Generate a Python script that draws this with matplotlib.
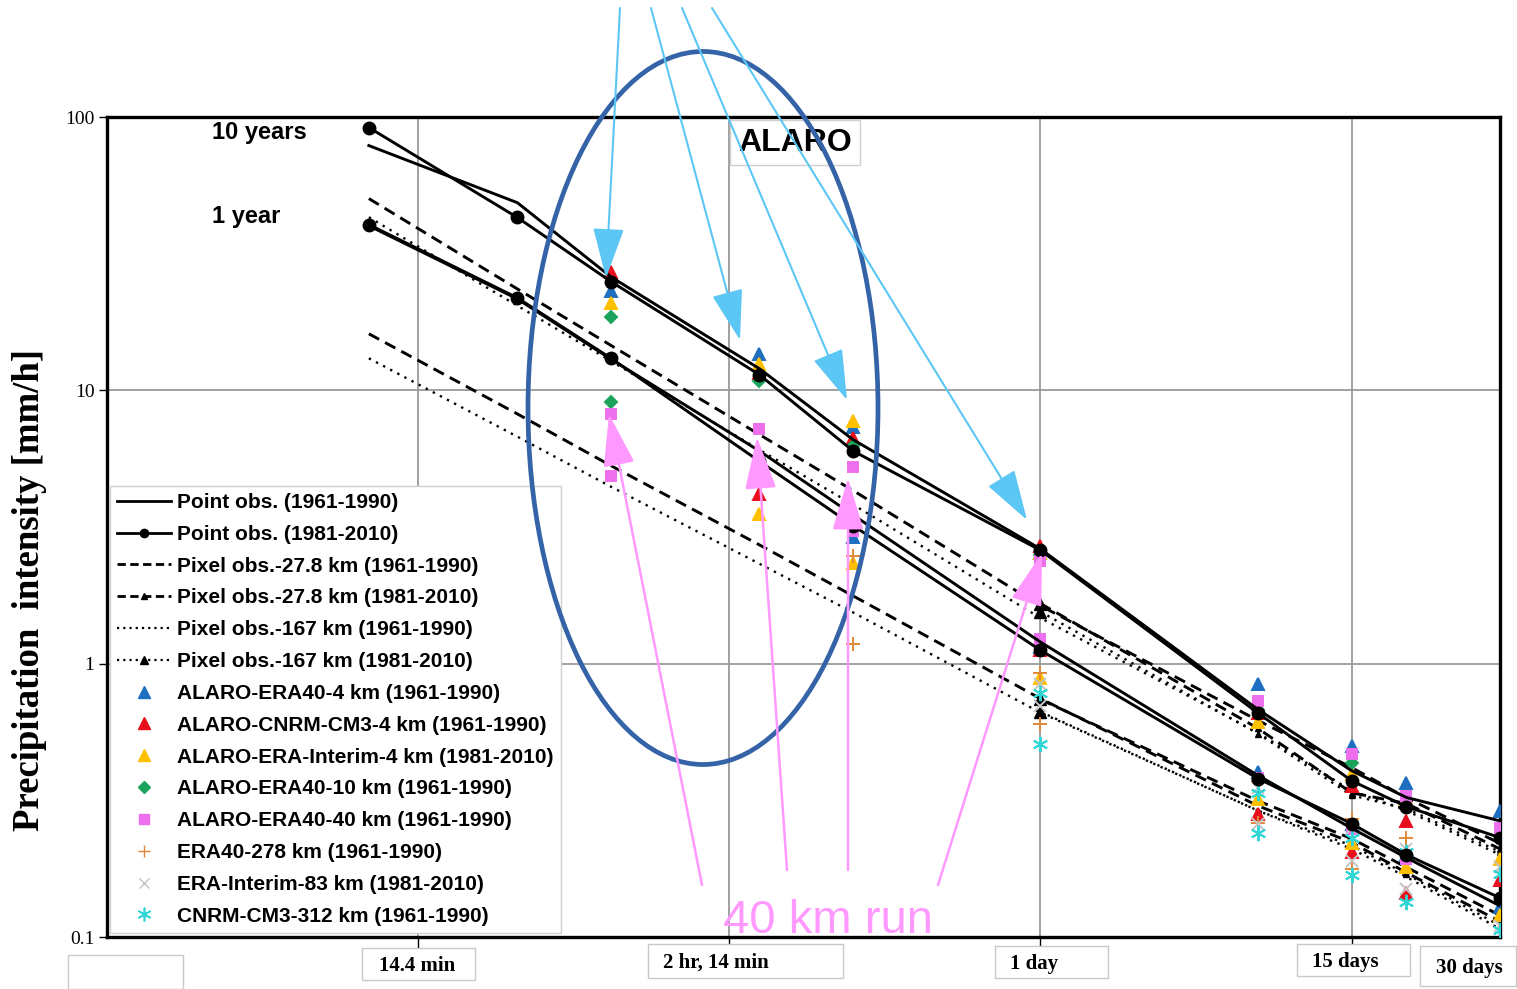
import numpy as np
import matplotlib
matplotlib.use('Agg')
import matplotlib.pyplot as plt
from matplotlib.lines import Line2D
from matplotlib.patches import Ellipse, FancyArrowPatch, Rectangle

nan = np.nan

# durations in days: 10 min, 30 min, 1 h, 3 h, 6 h, 1 d, 5 d, 10 d, 15 d, 30 d
durations = [10/1440, 30/1440, 1/24, 3/24, 6/24, 1, 5, 10, 15, 30]
daily = [1, 5, 10, 15, 30]

# ── observations (10-year and 1-year return levels, mm/h) ────────────────────
point_6190_10y = [78.6, 48.6, 26.0, 12.0, 6.6, 2.63, 0.68, 0.406, 0.324, 0.266]
point_6190_1y  = [40.0, 21.6, 13.0, 6.0, 3.5, 1.20, 0.39, 0.25, 0.195, 0.13]
point_8110_10y = [91.5, 42.9, 25.0, 11.4, 6.0, 2.60, 0.66, 0.373, 0.30, 0.231]
point_8110_1y  = [40.4, 21.8, 13.1, 5.5, 3.2, 1.12, 0.38, 0.26, 0.20, 0.139]

pix28_6190_10y = [50.3, 23.5, 14.6, 6.89, 4.30, 1.63, 0.62, 0.417, 0.323, 0.22]
pix28_6190_1y  = [16.1, 8.2, 5.3, 2.72, 1.77, 0.745, 0.302, 0.222, 0.172, 0.114]
pix28_8110_10y = [1.66, 0.58, 0.337, 0.308, 0.21]
pix28_8110_1y  = [0.74, 0.315, 0.229, 0.18, 0.12]

pix167_6190_10y = [43.0, 20.4, 12.8, 6.06, 3.82, 1.47, 0.559, 0.343, 0.29, 0.20]
pix167_6190_1y  = [13.1, 6.77, 4.44, 2.32, 1.54, 0.662, 0.29, 0.21, 0.166, 0.107]
pix167_8110_10y = [1.55, 0.555, 0.33, 0.295, 0.205]
pix167_8110_1y  = [0.667, 0.29, 0.216, 0.17, 0.11]

# ── models ────────────────────────────────────────────────────────────────────
era40_4_10y  = [nan, nan, 23.0, 13.6, 7.35, 2.55, 0.845, 0.50, 0.367, 0.29]
era40_4_1y   = [nan, nan, nan, 4.67, 2.9, 1.15, 0.403, 0.26, 0.20, 0.129]
cnrm_4_10y   = [nan, nan, 27.0, 11.6, 6.7, 2.70, 0.66, 0.358, 0.265, 0.162]
cnrm_4_1y    = [nan, nan, nan, 4.18, 3.48, 1.12, 0.283, 0.204, 0.145, nan]
erai_4_10y   = [nan, nan, 20.8, 12.5, 7.75, 2.55, 0.61, 0.396, 0.32, 0.193]
erai_4_1y    = [nan, nan, nan, 3.54, 2.34, 0.89, 0.32, 0.221, 0.18, 0.12]
era40_10_10y = [nan, nan, 18.6, 10.85, 6.27, 2.5, 0.679, 0.434, nan, nan]
era40_10_1y  = [nan, nan, 9.1, nan, nan, nan, nan, nan, nan, nan]
era40_40_10y = [nan, nan, 8.2, 7.2, 5.25, 2.38, 0.732, 0.469, 0.327, 0.25]
era40_40_1y  = [nan, nan, 4.86, nan, 3.07, 1.23, 0.383, 0.249, 0.193, nan]
era40_278_10y = [nan, nan, nan, nan, 2.48, 0.927, 0.373, 0.271, 0.23, nan]
era40_278_1y  = [nan, nan, nan, nan, 1.18, 0.60, 0.262, 0.178, nan, nan]
erai_83_10y  = [nan, nan, nan, nan, nan, 0.845, 0.35, 0.25, 0.21, 0.18]
erai_83_1y   = [nan, nan, nan, nan, nan, 0.70, 0.26, 0.19, 0.15, 0.11]
cnrm_312_10y = [nan, nan, nan, nan, nan, 0.784, 0.337, 0.231, 0.204, 0.17]
cnrm_312_1y  = [nan, nan, nan, nan, nan, 0.51, 0.241, 0.168, 0.134, 0.106]

BLUE, RED, YEL, GRN = '#1F6FC0', '#E8101C', '#FFC000', '#1BA35B'
PINK, ORG, GRY, CYN = '#EE6FEE', '#E0883A', '#C4C4C4', '#30D5D5'

fig = plt.figure(figsize=(15.17, 9.89), dpi=100)
ax = fig.add_axes([107/1517, 52/989, 1393/1517, 820/989])
ax.set_xscale('log')
ax.set_yscale('log')
ax.set_xlim(0.001, 30)
ax.set_ylim(0.1, 100)

LW = 2.1
DASH = (0, (4, 2.3))
DOT = (0, (1, 2.4))

for v in (point_6190_10y, point_6190_1y):
    ax.plot(durations, v, color='k', lw=LW, zorder=4)
for v in (point_8110_10y, point_8110_1y):
    ax.plot(durations, v, color='k', lw=LW, marker='o', ms=9, zorder=4)
for v in (pix28_6190_10y, pix28_6190_1y):
    ax.plot(durations, v, color='k', lw=LW, ls=DASH, zorder=2)
for v in (pix167_6190_10y, pix167_6190_1y):
    ax.plot(durations, v, color='k', lw=1.7, ls=DOT, zorder=2)
for v in (pix28_8110_10y, pix28_8110_1y):
    ax.plot(daily, v, color='k', lw=LW, ls=DASH, zorder=2)
    ax.plot(daily, v, color='none', marker='^', ms=4.5, mfc='k', mec='k',
            markevery=0.005, zorder=2)
    ax.plot(daily[0], v[0], color='k', marker='^', ms=9, ls='none', zorder=2)
for v in (pix167_8110_10y, pix167_8110_1y):
    ax.plot(daily, v, color='k', lw=1.7, ls=DOT, zorder=2)
    ax.plot(daily, v, color='none', marker='^', ms=4, mfc='k', mec='k',
            markevery=0.006, zorder=2)
    ax.plot(daily[0], v[0], color='k', marker='^', ms=9, ls='none', zorder=2)

models = [
    (era40_4_10y, era40_4_1y, '^', BLUE, 9),
    (cnrm_4_10y, cnrm_4_1y, '^', RED, 9),
    (erai_4_10y, erai_4_1y, '^', YEL, 9),
    (era40_10_10y, era40_10_1y, 'D', GRN, 6.5),
    (era40_40_10y, era40_40_1y, 's', PINK, 7.5),
    (era40_278_10y, era40_278_1y, '+', ORG, 10),
    (erai_83_10y, erai_83_1y, 'x', GRY, 8),
    (cnrm_312_10y, cnrm_312_1y, (6, 2, 0), CYN, 11),
]
for v10, v1, mk, c, ms in models:
    for v in (v10, v1):
        ax.plot(durations, v, ls='none', marker=mk, ms=ms, color=c,
                mec=c, mew=1.4, zorder=3)

# ── axes styling ──────────────────────────────────────────────────────────────
ax.set_xticks([0.01, 0.1, 1, 10])
ax.set_xticks([], minor=True)
ax.set_yticks([0.1, 1, 10, 100])
ax.set_yticks([], minor=True)
ax.set_yticklabels(['0.1', '1', '10', '100'], family='Liberation Serif', fontsize=14)
ax.tick_params(axis='x', length=9, width=1, labelbottom=False)
ax.tick_params(axis='y', length=6, width=1, pad=3)
ax.grid(True, which='major', color='#9a9a9a', lw=1.3)
ax.set_axisbelow(True)
for s in ax.spines.values():
    s.set_linewidth(2.4)

# ── legend ────────────────────────────────────────────────────────────────────
handles = [
    Line2D([], [], color='k', lw=2),
    Line2D([], [], color='k', lw=2, marker='o', ms=6),
    Line2D([], [], color='k', lw=2, ls=(0, (3, 1.6))),
    Line2D([], [], color='k', lw=2, ls=(0, (3, 1.6)), marker='^', ms=5),
    Line2D([], [], color='k', lw=1.6, ls=(0, (1, 1.8))),
    Line2D([], [], color='k', lw=1.6, ls=(0, (1, 1.8)), marker='^', ms=6),
    Line2D([], [], ls='none', marker='^', color=BLUE, ms=8),
    Line2D([], [], ls='none', marker='^', color=RED, ms=8),
    Line2D([], [], ls='none', marker='^', color=YEL, ms=8),
    Line2D([], [], ls='none', marker='D', color=GRN, ms=6),
    Line2D([], [], ls='none', marker='s', color=PINK, ms=6.5),
    Line2D([], [], ls='none', marker='+', color=ORG, ms=9, mew=1),
    Line2D([], [], ls='none', marker='x', color=GRY, ms=7, mew=1),
    Line2D([], [], ls='none', marker=(6, 2, 0), color=CYN, ms=10, mew=1.2),
]
labels = [
    'Point obs. (1961-1990)', 'Point obs. (1981-2010)',
    'Pixel obs.-27.8 km (1961-1990)', 'Pixel obs.-27.8 km (1981-2010)',
    'Pixel obs.-167 km (1961-1990)', 'Pixel obs.-167 km (1981-2010)',
    'ALARO-ERA40-4 km (1961-1990)', 'ALARO-CNRM-CM3-4 km (1961-1990)',
    'ALARO-ERA-Interim-4 km (1981-2010)', 'ALARO-ERA40-10 km (1961-1990)',
    'ALARO-ERA40-40 km (1961-1990)', 'ERA40-278 km (1961-1990)',
    'ERA-Interim-83 km (1981-2010)', 'CNRM-CM3-312 km (1961-1990)',
]
leg = ax.legend(handles, labels, loc='lower left', bbox_to_anchor=(0.002, 0.005),
                borderaxespad=0, prop=dict(family='Liberation Sans', weight='bold', size=15),
                handlelength=2.6, handletextpad=0.3, labelspacing=0.615,
                borderpad=0.35, fancybox=False, framealpha=1, edgecolor='#d0d0d0')
leg.get_frame().set_linewidth(1)
leg.set_zorder(6)

# ── overlay in pixel coordinates for annotations ──────────────────────────────
ov = fig.add_axes([0, 0, 1, 1], zorder=10)
ov.set_xlim(0, 1517)
ov.set_ylim(989, 0)
ov.axis('off')

ov.text(30, 590, 'Precipitation  intensity [mm/h]', rotation=90, ha='center',
        va='center', family='Liberation Serif', weight='bold', fontsize=26.5)
ov.text(212, 133, '10 years', ha='left', va='center', family='Liberation Sans',
        weight='bold', fontsize=17)
ov.text(212, 217, '1 year', ha='left', va='center', family='Liberation Sans',
        weight='bold', fontsize=17)
ov.add_patch(Rectangle((730, 120), 130, 45, fc='white', ec='#d0d0d0', lw=1))
ov.text(795, 143, 'ALARO', ha='center', va='center', family='Liberation Sans',
        weight='bold', fontsize=23)

# x tick label boxes
boxes = [
    (68, 955, 115, 34, '', 0, 0),
    (362, 948, 113, 32, '14.4 min', 417, 'center'),
    (648, 944, 195, 34, '2 hr, 14 min', 663, 'left'),
    (995, 946, 113, 32, '1 day', 1010, 'left'),
    (1297, 944, 113, 32, '15 days', 1312, 'left'),
    (1420, 946, 96, 40, '30 days', 1436, 'left'),
]
for bx, by, bw, bh, txt, tx, ha in boxes:
    ov.add_patch(Rectangle((bx, by), bw, bh, fc='white', ec='#c8c8c8', lw=1, zorder=1))
    if txt:
        ov.text(tx, by + bh/2 + 2, txt, ha=ha, va='center', family='Liberation Serif',
                weight='bold', fontsize=15, zorder=2)

# ellipse around the sub-daily columns
ov.add_patch(Ellipse((703, 408), 350, 713, fill=False, ec='#3563A7', lw=3.4, zorder=3))

# light blue arrows from above
LBLUE = '#5CC6F5'
for x0, y0, x1, y1 in [(620, 8, 606, 278), (651, 8, 740, 340),
                       (682, 8, 847, 400), (712, 8, 1027, 520)]:
    ov.add_patch(FancyArrowPatch((x0, y0), (x1, y1), color=LBLUE, lw=1.5,
                                 arrowstyle='-|>,head_length=1.45,head_width=0.45',
                                 mutation_scale=22, shrinkA=0, shrinkB=0, zorder=4))

# pink arrows from the "40 km run" label
PINKA = '#FF99FF'
for x0, y0, x1, y1 in [(702, 885, 609, 414), (787, 870, 757, 437),
                       (848, 870, 848, 478), (938, 885, 1042, 553)]:
    ov.add_patch(FancyArrowPatch((x0, y0), (x1, y1), color=PINKA, lw=1.8,
                                 arrowstyle='-|>,head_length=1.5,head_width=0.45',
                                 mutation_scale=22, shrinkA=0, shrinkB=0, zorder=4))
ov.text(828, 921, '40 km run', ha='center', va='center', color=PINKA,
        family='Liberation Sans', fontsize=34, zorder=5)

fig.savefig('out.png', dpi=100, facecolor='white')
